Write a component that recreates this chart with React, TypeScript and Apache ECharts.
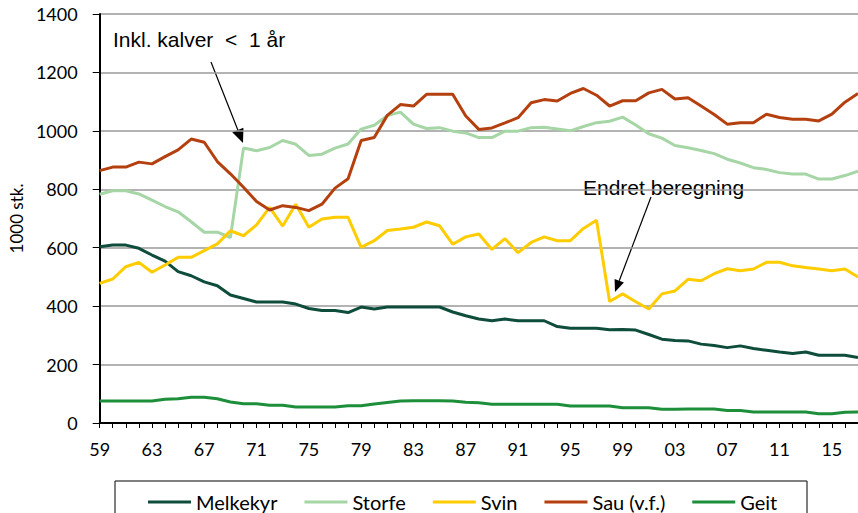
import React, { useEffect, useRef } from "react";
import * as echarts from "echarts";

const years = [
  "59", "60", "61", "62", "63", "64", "65", "66", "67", "68",
  "69", "70", "71", "72", "73", "74", "75", "76", "77", "78",
  "79", "80", "81", "82", "83", "84", "85", "86", "87", "88",
  "89", "90", "91", "92", "93", "94", "95", "96", "97", "98",
  "99", "00", "01", "02", "03", "04", "05", "06", "07", "08",
  "09", "10", "11", "12", "13", "14", "15", "16", "17",
];

const melkekyr = [
  603, 609, 609, 598, 575, 554, 518, 504, 483, 470,
  438, 426, 414, 414, 414, 407, 392, 385, 385, 378,
  397, 390, 397, 397, 397, 397, 397, 380, 367, 356,
  350, 356, 350, 350, 350, 330, 324, 324, 324, 319,
  320, 318, 303, 287, 282, 281, 270, 265, 258, 264,
  255, 249, 243, 238, 243, 232, 232, 232, 224,
];

const storfe = [
  783, 795, 795, 784, 763, 741, 723, 689, 653, 653,
  635, 941, 932, 943, 967, 954, 916, 920, 941, 955,
  1006, 1019, 1052, 1064, 1023, 1008, 1011, 999, 993, 977,
  977, 999, 999, 1011, 1012, 1006, 1000, 1015, 1028, 1033,
  1047, 1020, 990, 975, 950, 942, 933, 922, 903, 890,
  874, 868, 857, 852, 852, 835, 835, 847, 862,
];

const svin = [
  478, 493, 535, 550, 516, 541, 567, 567, 590, 613,
  658, 641, 678, 738, 674, 749, 670, 698, 704, 704,
  601, 624, 659, 664, 670, 688, 675, 612, 637, 647,
  594, 631, 583, 618, 637, 624, 624, 666, 694, 416,
  442, 415, 390, 442, 452, 492, 487, 511, 528, 521,
  527, 550, 550, 538, 532, 527, 521, 527, 500,
];

const sau = [
  864, 876, 876, 893, 887, 912, 935, 972, 961, 895,
  853, 807, 758, 729, 744, 738, 727, 749, 804, 836,
  967, 977, 1053, 1090, 1085, 1125, 1125, 1125, 1051, 1005,
  1010, 1027, 1045, 1096, 1107, 1102, 1128, 1145, 1122, 1085,
  1103, 1103, 1130, 1142, 1109, 1113, 1085, 1056, 1023, 1028,
  1028, 1057, 1046, 1040, 1040, 1034, 1057, 1098, 1128,
];

const geit = [
  75, 75, 75, 75, 75, 81, 83, 88, 88, 83,
  72, 66, 66, 61, 61, 55, 55, 55, 55, 59,
  59, 65, 70, 75, 76, 76, 76, 75, 71, 69,
  64, 64, 64, 64, 64, 64, 58, 58, 58, 58,
  52, 52, 52, 47, 47, 48, 48, 48, 43, 43,
  38, 38, 38, 38, 38, 32, 32, 37, 38,
];

const seriesNames = ["Melkekyr", "Storfe", "Svin", "Sau (v.f.)", "Geit"];
const seriesColors = ["#0e4c3b", "#a6d6a6", "#ffcc00", "#b5400f", "#1d8e3a"];
const seriesData = [melkekyr, storfe, svin, sau, geit];

const yTicks = { min: 0, max: 1400, interval: 200 };

function arrow(x1: number, y1: number, x2: number, y2: number, headLen: number, halfW: number) {
  const dx = x2 - x1;
  const dy = y2 - y1;
  const len = Math.sqrt(dx * dx + dy * dy);
  const ux = dx / len;
  const uy = dy / len;
  const bx = x2 - ux * headLen;
  const by = y2 - uy * headLen;
  const px = -uy * halfW;
  const py = ux * halfW;
  return [
    {
      type: "line",
      shape: { x1, y1, x2: bx, y2: by },
      style: { stroke: "#000", lineWidth: 1.2 },
    },
    {
      type: "polygon",
      shape: {
        points: [
          [x2, y2],
          [bx + px, by + py],
          [bx - px, by - py],
        ],
      },
      style: { fill: "#000" },
    },
  ];
}

export default function App() {
  const ref = useRef<HTMLDivElement>(null);

  useEffect(() => {
    if (!ref.current) return;
    const chart = echarts.init(ref.current, undefined, { renderer: "svg" });
    const font = "Lato, 'Open Sans', sans-serif";
    const annFont = "'Liberation Sans', Arial, sans-serif";
    chart.setOption({
      animation: false,
      backgroundColor: "#ffffff",
      grid: { left: 95, top: 14, bottom: 90, right: -5, containLabel: false },
      xAxis: {
        type: "category",
        data: years,
        boundaryGap: false,
        axisLine: { show: true, lineStyle: { color: "#000", width: 2 } },
        axisTick: { show: true, interval: 0, length: 5, lineStyle: { color: "#000", width: 1 } },
        axisLabel: {
          interval: 3,
          margin: 17,
          color: "#000",
          fontSize: 18,
          fontFamily: font,
        },
        splitLine: { show: false },
      },
      yAxis: {
        type: "value",
        min: yTicks.min,
        max: yTicks.max,
        interval: yTicks.interval,
        name: "1000 stk.",
        nameLocation: "middle",
        nameRotate: 90,
        nameGap: 70,
        nameTextStyle: { color: "#000", fontSize: 17, fontFamily: font },
        axisLine: { show: true, lineStyle: { color: "#000", width: 2 } },
        axisTick: { show: true, inside: false, length: 7, lineStyle: { color: "#000", width: 1 } },
        axisLabel: {
          color: "#000",
          fontSize: 18,
          margin: 22,
          fontFamily: font,
          formatter: (v: number) => String(v),
        },
        splitLine: { show: true, lineStyle: { color: "#9a9a9a", width: 1.5 } },
      },
      legend: {
        data: seriesNames,
        left: 143,
        top: 487,
        icon: "rect",
        itemWidth: 43,
        itemHeight: 3,
        itemGap: 27,
        textStyle: { color: "#000", fontSize: 20, fontFamily: font },
      },
      series: seriesNames.map((name, i) => ({
        name,
        type: "line",
        data: seriesData[i],
        symbol: "none",
        color: seriesColors[i],
        lineStyle: { width: 3, color: seriesColors[i] },
        z: 2 + i,
      })),
      graphic: [
        {
          type: "rect",
          shape: { x: 115, y: 481, width: 692, height: 45 },
          style: { fill: "none", stroke: "#000", lineWidth: 1 },
          z: 1,
        },
        {
          type: "text",
          x: 113,
          y: 39,
          style: {
            text: "Inkl. kalver  <  1 år",
            fill: "#000",
            fontSize: 21,
            fontFamily: annFont,
            verticalAlign: "middle",
          },
        },
        ...arrow(211, 62, 243, 143, 14, 6),
        {
          type: "text",
          x: 583,
          y: 187,
          style: {
            text: "Endret beregning",
            fill: "#000",
            fontSize: 21,
            fontFamily: annFont,
            verticalAlign: "middle",
          },
        },
        ...arrow(651, 197, 615, 292, 12, 5),
      ],
    });
    return () => chart.dispose();
  }, []);

  return (
    <div
      ref={ref}
      style={{ position: "fixed", left: 0, top: 0, width: 858, height: 513, background: "#fff" }}
    />
  );
}
